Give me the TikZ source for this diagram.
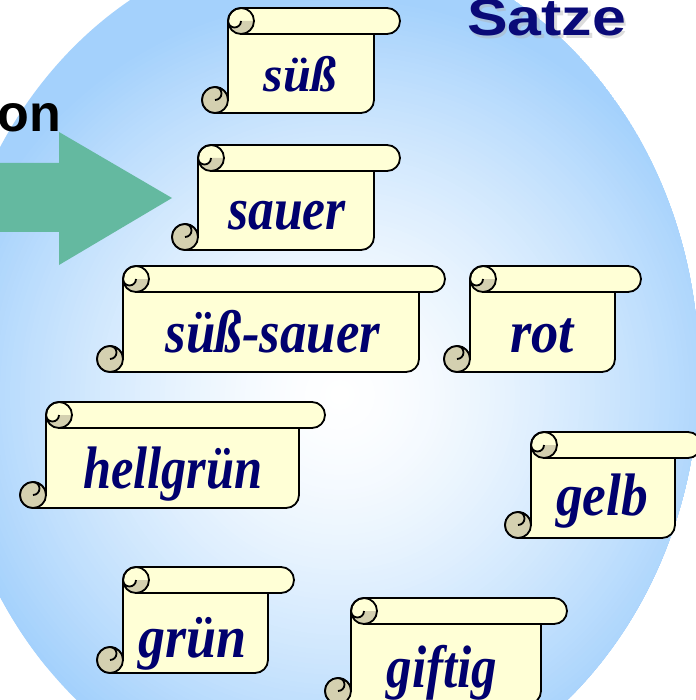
\documentclass[tikz,border=0pt]{standalone}
\usepackage{fontspec}
\setmainfont{Liberation Serif}
\newfontfamily\headsans{Liberation Sans}
\definecolor{edgeblue}{RGB}{164,209,252}
\definecolor{scrollfill}{RGB}{255,255,214}
\definecolor{curlfill}{RGB}{212,208,176}
\definecolor{inkblue}{RGB}{0,0,110}
\definecolor{titleblue}{RGB}{10,10,120}
\definecolor{arrowgreen}{RGB}{100,185,160}
\tikzset{
  scrollline/.style={line width=1.8, line join=round, draw=black},
  scrolltext/.style={anchor=base, inner sep=0, text=inkblue, font=\bfseries\itshape\fontsize{60}{60}\selectfont},
  headfont/.style={font=\headsans\bfseries\fontsize{52}{52}\selectfont},
}
\newcommand\scrollat[4]{%
  \begin{scope}[shift={(#1,#2)}]
    \pgfmathsetmacro\sw{#3}\pgfmathsetmacro\sh{#4}
    \filldraw[scrollline, fill=scrollfill]
      (26,13) arc[start angle=180,end angle=270,radius=13] -- (\sw-13,0)
      arc[start angle=270,end angle=450,radius=13] -- (\sw-26,26) -- (\sw-26,\sh-13)
      arc[start angle=0,end angle=90,radius=13] -- (13,\sh)
      arc[start angle=90,end angle=360,radius=13] -- cycle;
    \draw[scrollline] (39,26) -- (\sw-26,26);
    \fill[curlfill] (26,13) arc[start angle=180,end angle=0,radius=13] -- (39,13)
      arc[start angle=0,end angle=180,radius=6.5] -- cycle;
    \draw[scrollline] (39,13) circle[radius=13];
    \draw[scrollline] (39,13) arc[start angle=0,end angle=180,radius=6.5];
    \filldraw[scrollline, fill=curlfill] (13,\sh-13) circle[radius=13];
    \draw[scrollline] (13,\sh-26) arc[start angle=270,end angle=450,radius=6.5];
  \end{scope}}
\begin{document}
\begin{tikzpicture}[x=1pt,y=-1pt]
\useasboundingbox (0,0) rectangle (695,700);
\fill[white] (0,0) rectangle (695,700);
\begin{scope}
  \clip (322,372) ellipse[x radius=377, y radius=432];
  \fill[edgeblue] (322,372) ellipse[x radius=377, y radius=432];
  \foreach \i in {0,...,80}{
    \pgfmathsetmacro\rr{400-5*\i}
    \pgfmathsetmacro\pp{100*(\rr/400)^1.5}
    \fill[edgeblue!\pp!white] (340,395) circle[radius=\rr];
  }
\end{scope}
% green arrow
\fill[arrowgreen] (-5,163) -- (59,163) -- (59,132) -- (172,198) -- (59,265) -- (59,232) -- (-5,232) -- cycle;
% headings
\node[anchor=base east, inner sep=0, text=black, headfont] (onlbl) at (61,132) {on};
\node[anchor=base west, inner sep=0, text=black!30, opacity=0.45, headfont] (satzeshadow) at (469.5,38.5) {\scalebox{1.17}[1]{Satze}};
\node[anchor=base west, inner sep=0, text=titleblue, headfont] (satze) at (467,36) {\scalebox{1.17}[1]{Satze}};
% scrolls
\scrollat{202}{8}{198}{105}
\scrollat{172}{145}{228}{105}
\scrollat{97}{266}{348}{106}
\scrollat{444}{266}{197}{106}
\scrollat{20}{402}{305}{106}
\scrollat{505}{432}{196}{106}
\scrollat{97}{567}{197}{106}
\scrollat{325}{598}{242}{106}
% scroll texts
\node[scrolltext, font=\bfseries\itshape\fontsize{50}{50}\selectfont] (tsuess) at (300,92) {süß};
\node[scrolltext] (tsauer) at (287,230) {\scalebox{0.86}[1]{sauer}};
\node[scrolltext] (tsuesssauer) at (273,352) {\scalebox{0.88}[1]{süß-sauer}};
\node[scrolltext] (trot) at (542,352) {\scalebox{0.91}[1]{rot}};
\node[scrolltext] (thellgruen) at (173,488) {\scalebox{0.84}[1]{hellgrün}};
\node[scrolltext] (tgelb) at (602,515) {\scalebox{0.89}[1]{gelb}};
\node[scrolltext] (tgruen) at (193,657) {\scalebox{0.9}[1]{grün}};
\node[scrolltext] (tgiftig) at (442,687) {\scalebox{0.85}[1]{giftig}};
\end{tikzpicture}
\end{document}
